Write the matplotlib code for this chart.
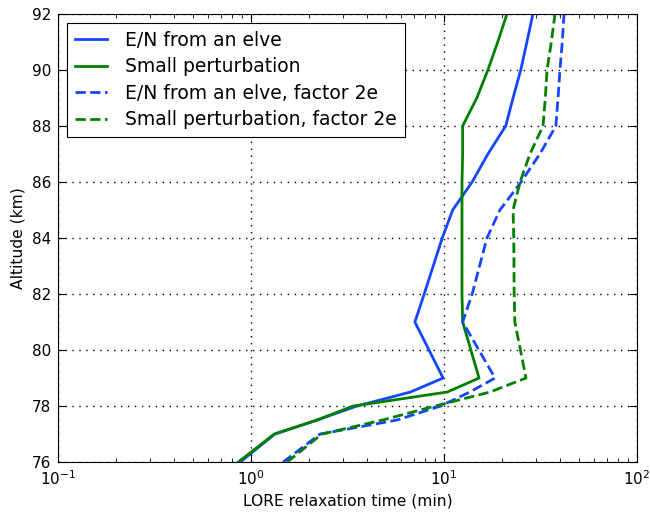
import matplotlib
matplotlib.use('Agg')
import matplotlib.pyplot as plt
import numpy as np

# Altitude grid (km)
alt = [76, 77, 77.5, 78, 78.5, 79, 81, 82, 84, 85, 86, 87, 88, 89, 90, 91, 92]

# LORE relaxation time (min)
tau_elve = [0.88, 1.33, 2.2, 3.54, 6.7, 9.9, 7.07, 7.9, 9.8, 11.1, 14.0, 16.9, 20.9, 22.8, 25.0, 26.9, 28.9]
tau_small = [0.86, 1.32, 2.2, 3.38, 10.4, 15.2, 12.5, 12.4, 12.4, 12.4, 12.4, 12.5, 12.5, 14.8, 16.9, 19.0, 21.2]
tau_elve_2e = [1.47, 2.28, 5.7, 9.6, 13.6, 18.4, 12.5, 14.0, 16.7, 19.5, 25.1, 31.4, 38.0, 39.0, 39.9, 41.0, 41.9]
tau_small_2e = [1.54, 2.33, 4.8, 9.0, 17.3, 26.6, 23.3, 23.1, 23.0, 22.8, 24.8, 27.9, 32.6, 33.5, 34.2, 36.0, 37.6]

blue = '#1446ff'
green = '#008000'

fig = plt.figure(figsize=(6.5, 5.14), dpi=100)
ax = fig.add_axes([0.089, 0.101, 0.891, 0.872])

ax.plot(tau_elve, alt, color=blue, lw=2, label='E/N from an elve')
ax.plot(tau_small, alt, color=green, lw=2, label='Small perturbation')
ax.plot(tau_elve_2e, alt, color=blue, lw=2, ls='--', label='E/N from an elve, factor 2e')
ax.plot(tau_small_2e, alt, color=green, lw=2, ls='--', label='Small perturbation, factor 2e')

ax.set_xscale('log')
ax.set_xlim(0.1, 100)
ax.set_ylim(76, 92)
ax.set_yticks(np.arange(76, 93, 2))
ax.set_xlabel('LORE relaxation time (min)', fontsize=11.2)
ax.set_ylabel('Altitude (km)', fontsize=11.2)
ax.tick_params(which='both', direction='in', top=True, right=True, labelsize=11)
ax.tick_params(which='major', length=6, pad=5)
ax.tick_params(which='minor', length=3)
ax.grid(True, which='major', color='black', linestyle=(0, (1, 4)), linewidth=1.0)

leg = ax.legend(loc='upper left', fontsize=13.5, fancybox=False, framealpha=1,
                edgecolor='black', handlelength=1.7, handletextpad=1.0,
                borderaxespad=0.5, labelspacing=0.4)
leg.get_frame().set_linewidth(0.8)

fig.savefig('out.png', dpi=100)
